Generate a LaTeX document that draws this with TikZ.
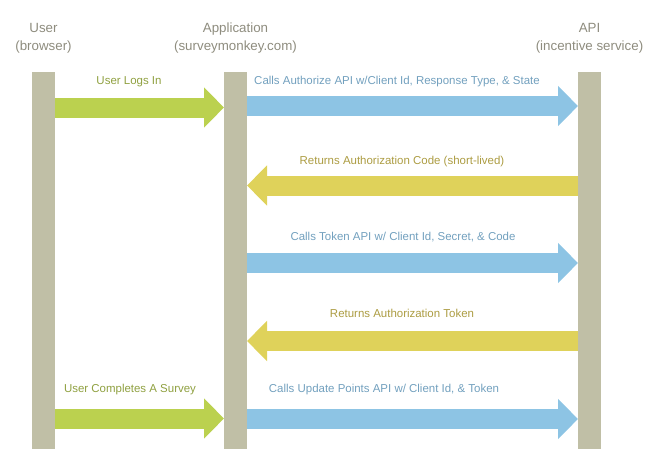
\documentclass[tikz,border=0pt]{standalone}
\usepackage{fontspec}
\setmainfont{Liberation Sans}
\usetikzlibrary{arrows.meta}
\definecolor{barc}{HTML}{C0BFA6}
\definecolor{greenc}{HTML}{BBD14F}
\definecolor{bluec}{HTML}{8DC4E4}
\definecolor{yellowc}{HTML}{DFD25A}
\definecolor{headc}{HTML}{8E8C7E}
\definecolor{greent}{HTML}{8FA040}
\definecolor{bluet}{HTML}{72A0BE}
\definecolor{yellowt}{HTML}{AC9C42}
\tikzset{
  bar/.style={fill=barc, draw=none, minimum width=17.25pt, minimum height=282.75pt, inner sep=0pt, outer sep=0pt},
  head/.style={text=headc, font=\fontsize{10}{13.5}\selectfont, align=center, inner sep=0pt},
  lbl/.style={font=\fontsize{8.6}{10}\selectfont, inner sep=0pt},
  fat/.style={line width=15pt, -{Triangle[width=29.25pt,length=15pt]}},
  greenarrow/.style={fat, draw=greenc, fill=greenc},
  bluearrow/.style={fat, draw=bluec, fill=bluec},
  yellowarrow/.style={fat, draw=yellowc, fill=yellowc},
}
\begin{document}
\begin{tikzpicture}[x=0.75pt, y=-0.75pt]
\useasboundingbox (0,0) rectangle (657,468);
\node[bar] (user) at (43.5,260.5) {};
\node[bar] (app) at (235.5,260.5) {};
\node[bar] (api) at (589.5,260.5) {};
\node[head] (huser) at (43.5,38) {User\\(browser)};
\node[head] (happ) at (235.5,38) {Application\\(surveymonkey.com)};
\node[head] (hapi) at (589.5,38) {API\\(incentive service)};
\coordinate (r1) at (0,107.5);
\coordinate (r1b) at (0,106);
\coordinate (r2) at (0,185.5);
\coordinate (r3) at (0,263);
\coordinate (r4) at (0,341);
\coordinate (r5) at (0,418.5);
\coordinate (r5b) at (0,419);
\draw[greenarrow] (user.east |- r1) -- (app.west |- r1);
\draw[bluearrow] (app.east |- r1b) -- (api.west |- r1b);
\draw[yellowarrow] (api.west |- r2) -- (app.east |- r2);
\draw[bluearrow] (app.east |- r3) -- (api.west |- r3);
\draw[yellowarrow] (api.west |- r4) -- (app.east |- r4);
\draw[greenarrow] (user.east |- r5) -- (app.west |- r5);
\draw[bluearrow] (app.east |- r5b) -- (api.west |- r5b);
\node[lbl, text=greent] (l1) at (129,82) {User Logs In};
\node[lbl, text=bluet] (l2) at (397,82) {Calls Authorize API w/Client Id, Response Type, \& State};
\node[lbl, text=yellowt] (l3) at (402,162) {Returns Authorization Code (short-lived)};
\node[lbl, text=bluet] (l4) at (403,237) {Calls Token API w/ Client Id, Secret, \& Code};
\node[lbl, text=yellowt] (l5) at (402,313) {Returns Authorization Token};
\node[lbl, text=greent] (l6) at (130,390) {User Completes A Survey};
\node[lbl, text=bluet] (l7) at (384,390) {Calls Update Points API w/ Client Id, \& Token};
\end{tikzpicture}
\end{document}
